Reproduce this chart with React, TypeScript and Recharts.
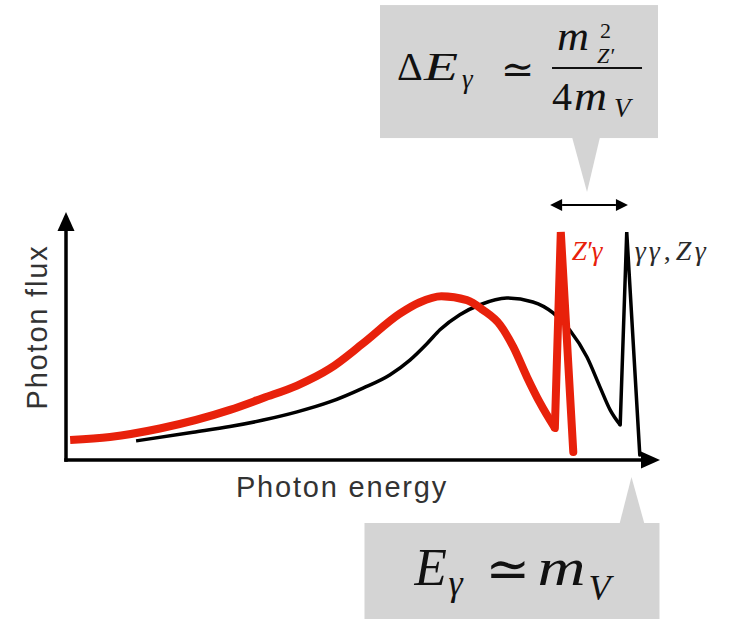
import React from 'react';
import { LineChart, Line, XAxis, YAxis, ReferenceLine, ReferenceDot } from 'recharts';

// Continuum of the SM decay (arbitrary units)
const blackEnergy = [11.8, 21.4, 27.6, 33.2, 38.9, 44.4, 50.0, 54.5, 57.9, 60.8, 63.0, 66.3, 69.7, 74.2, 78.6, 82.0, 84.8, 87.7, 89.9, 91.6, 93.3];
const blackFlux = [7.7, 11.2, 13.5, 16.1, 19.4, 23.4, 29.0, 34.3, 40.3, 47.0, 52.6, 58.6, 62.6, 65.3, 63.7, 59.3, 52.4, 41.5, 29.4, 20.2, 14.1];
// γγ, Zγ line on top of the continuum end
const blackLineEnergy = [93.3, 94.4, 96.6];
const blackLineFlux = [14.1, 91.9, 2.0];

// Continuum with the new boson
const redEnergy = [0.7, 7.4, 15.8, 27.6, 33.2, 38.9, 44.4, 50.0, 56.2, 59.5, 63.2, 67.5, 70.2, 73.1, 75.3, 77.6, 79.8, 82.3];
const redFlux = [8.1, 9.3, 12.7, 20.2, 25.0, 30.0, 36.8, 47.0, 59.0, 63.5, 66.0, 64.5, 60.5, 54.4, 45.6, 33.5, 23.0, 12.9];
// Z'γ line
const redLineEnergy = [82.3, 83.3, 85.4];
const redLineFlux = [12.9, 91.9, 3.2];

// Shift between the two lines, and the line energy marker
const shiftEnergy = [81.5, 94.6];
const shiftFlux = 102.8;
const lineEnergy = 95.2;

const xTitle = 'Photon energy';
const yTitle = 'Photon flux';

const RED = '#e8210b';
const INK = '#000000';
const GRAY = '#d4d4d4';
const SANS = "'Liberation Sans', Arial, Helvetica, sans-serif";
const MATH = "'Liberation Serif', 'Times New Roman', 'DejaVu Serif', serif";
const MATH_INK = '#111111';

const toPoints = (xs: number[], ys: number[]) => xs.map((energy, i) => ({ energy, flux: ys[i] }));

const blackData = toPoints(blackEnergy, blackFlux);
const blackLineData = toPoints(blackLineEnergy, blackLineFlux);
const redData = toPoints(redEnergy, redFlux);
const redLineData = toPoints(redLineEnergy, redLineFlux);

const arrowHead = (x: number, y: number, ang: number, len: number, half: number) => {
  const bx = x - len * Math.cos(ang);
  const by = y - len * Math.sin(ang);
  const px = -Math.sin(ang) * half;
  const py = Math.cos(ang) * half;
  return { bx, by, points: `${x},${y} ${bx + px},${by + py} ${bx - px},${by - py}` };
};

const AxisArrow = (props: any) => {
  const { x1, y1, x2, y2 } = props;
  const ang = Math.atan2(y2 - y1, x2 - x1);
  const h = arrowHead(x2, y2, ang, 19, 8.5);
  return (
    <g>
      <line x1={x1} y1={y1} x2={h.bx + Math.cos(ang)} y2={h.by + Math.sin(ang)} stroke={INK} strokeWidth={3.5} strokeLinecap="square" />
      <polygon points={h.points} fill={INK} />
    </g>
  );
};

const DoubleArrow = (props: any) => {
  const { x1, y1, x2, y2 } = props;
  const ang = Math.atan2(y2 - y1, x2 - x1);
  const a = arrowHead(x2, y2, ang, 12, 6);
  const b = arrowHead(x1, y1, ang + Math.PI, 12, 6);
  return (
    <g>
      <line x1={b.bx} y1={b.by} x2={a.bx} y2={a.by} stroke={INK} strokeWidth={2} />
      <polygon points={a.points} fill={INK} />
      <polygon points={b.points} fill={INK} />
    </g>
  );
};

// ΔE_γ ≃ m²_Z' / 4 m_V
const TopCallout = (props: any) => {
  const { cx, cy } = props;
  return (
    <g>
      <rect x={cx - 209} y={cy - 200} width={278} height={133} fill={GRAY} />
      <polygon points={`${cx - 17},${cy - 68} ${cx + 11},${cy - 68} ${cx - 2},${cy - 13}`} fill={GRAY} />
      <g fontFamily={MATH} fill={MATH_INK}>
        <text x={cx - 192} y={cy - 125} fontSize={40}>Δ</text>
        <text x={cx - 165} y={cy - 125} fontSize={40} fontStyle="italic" textLength={34} lengthAdjust="spacingAndGlyphs">E</text>
        <text x={cx - 127} y={cy - 117} fontSize={27} fontStyle="italic">γ</text>
        <text x={cx - 88} y={cy - 122} fontSize={40}>≃</text>
        <text x={cx - 32} y={cy - 155} fontSize={40} fontStyle="italic" textLength={32} lengthAdjust="spacingAndGlyphs">m</text>
        <text x={cx + 11} y={cy - 167} fontSize={22}>2</text>
        <text x={cx + 8} y={cy - 142} fontSize={22} fontStyle="italic">Z′</text>
        <line x1={cx - 37} x2={cx + 53} y1={cy - 137} y2={cy - 137} stroke={MATH_INK} strokeWidth={2} />
        <text x={cx - 37} y={cy - 95} fontSize={40}>4</text>
        <text x={cx - 15} y={cy - 95} fontSize={40} fontStyle="italic" textLength={33} lengthAdjust="spacingAndGlyphs">m</text>
        <text x={cx + 25} y={cy - 88} fontSize={27} fontStyle="italic">V</text>
      </g>
    </g>
  );
};

// E_γ ≃ m_V
const BottomCallout = (props: any) => {
  const { cx, cy } = props;
  return (
    <g>
      <rect x={cx - 267} y={cy + 63} width={295} height={96} fill={GRAY} />
      <polygon points={`${cx - 12},${cy + 64} ${cx + 13},${cy + 64} ${cx},${cy + 17}`} fill={GRAY} />
      <g fontFamily={MATH} fill={MATH_INK}>
        <text x={cx - 217} y={cy + 125} fontSize={53} fontStyle="italic">E</text>
        <text x={cx - 183} y={cy + 135} fontSize={36} fontStyle="italic">γ</text>
        <text x={cx - 146} y={cy + 127} fontSize={53}>≃</text>
        <text x={cx - 94} y={cy + 125} fontSize={53} fontStyle="italic" textLength={48} lengthAdjust="spacingAndGlyphs">m</text>
        <text x={cx - 43} y={cy + 140} fontSize={36} fontStyle="italic">V</text>
      </g>
    </g>
  );
};

const RedTag = (props: any) => (
  <text y={props.cy + 28} fontFamily={MATH} fontSize={27} fontStyle="italic" fill={RED}>
    <tspan x={props.cx + 11}>Z</tspan>
    <tspan x={props.cx + 25}>′</tspan>
    <tspan x={props.cx + 31}>γ</tspan>
  </text>
);

const BlackTag = (props: any) => (
  <text y={props.cy + 28} fontFamily={MATH} fontSize={28} fill="#2a2a2a">
    <tspan x={props.cx + 8} fontStyle="italic">γ</tspan>
    <tspan x={props.cx + 22} fontStyle="italic">γ</tspan>
    <tspan x={props.cx + 37}>,</tspan>
    <tspan x={props.cx + 49} fontStyle="italic">Z</tspan>
    <tspan x={props.cx + 68} fontStyle="italic">γ</tspan>
  </text>
);

const XTitle = (props: any) => {
  const vb = props.viewBox;
  return (
    <text x={vb.x + vb.width / 2 - 21} y={vb.y + 37} textAnchor="middle" fontFamily={SANS} fontSize={29} letterSpacing={1.8} fill="#333">
      {xTitle}
    </text>
  );
};

const YTitle = (props: any) => {
  const vb = props.viewBox;
  const x = vb.x + vb.width - 19;
  const y = vb.y + vb.height / 2 - 9;
  return (
    <text x={x} y={y} transform={`rotate(-90, ${x}, ${y})`} textAnchor="middle" fontFamily={SANS} fontSize={29} letterSpacing={1.8} fill="#333">
      {yTitle}
    </text>
  );
};

export default function App() {
  return (
    <div style={{ position: 'absolute', left: 0, top: 0, background: '#fff' }}>
      <LineChart width={729} height={619} margin={{ top: 212, right: 69, bottom: 119, left: 6 }}>
        <XAxis
          type="number"
          dataKey="energy"
          domain={[0, 100]}
          allowDataOverflow
          tick={false}
          tickLine={false}
          axisLine={false}
          height={40}
          label={{ content: XTitle }}
        />
        <YAxis
          type="number"
          dataKey="flux"
          domain={[0, 100]}
          allowDataOverflow
          tick={false}
          tickLine={false}
          axisLine={false}
          width={60}
          label={{ content: YTitle }}
        />
        <ReferenceLine segment={[{ x: 0, y: 0 }, { x: 100, y: 0 }]} ifOverflow="visible" shape={AxisArrow} />
        <ReferenceLine segment={[{ x: 0, y: 0 }, { x: 0, y: 100 }]} ifOverflow="visible" shape={AxisArrow} />

        <Line data={blackData} dataKey="flux" type="monotone" stroke={INK} strokeWidth={3.5} dot={false} isAnimationActive={false} />
        <Line data={blackLineData} dataKey="flux" type="linear" stroke={INK} strokeWidth={3.5} strokeLinecap="round" dot={false} isAnimationActive={false} />
        <Line data={redData} dataKey="flux" type="monotone" stroke={RED} strokeWidth={8} dot={false} isAnimationActive={false} />
        <Line data={redLineData} dataKey="flux" type="linear" stroke={RED} strokeWidth={8} strokeLinecap="round" dot={false} isAnimationActive={false} />

        <ReferenceLine
          segment={[{ x: shiftEnergy[0], y: shiftFlux }, { x: shiftEnergy[1], y: shiftFlux }]}
          ifOverflow="visible"
          shape={DoubleArrow}
        />
        <ReferenceDot x={redLineEnergy[1]} y={redLineFlux[1]} ifOverflow="visible" shape={RedTag} />
        <ReferenceDot x={blackLineEnergy[1]} y={blackLineFlux[1]} ifOverflow="visible" shape={BlackTag} />
        <ReferenceDot x={(shiftEnergy[0] + shiftEnergy[1]) / 2} y={shiftFlux} ifOverflow="visible" shape={TopCallout} />
        <ReferenceDot x={lineEnergy} y={0} ifOverflow="visible" shape={BottomCallout} />
      </LineChart>
    </div>
  );
}
